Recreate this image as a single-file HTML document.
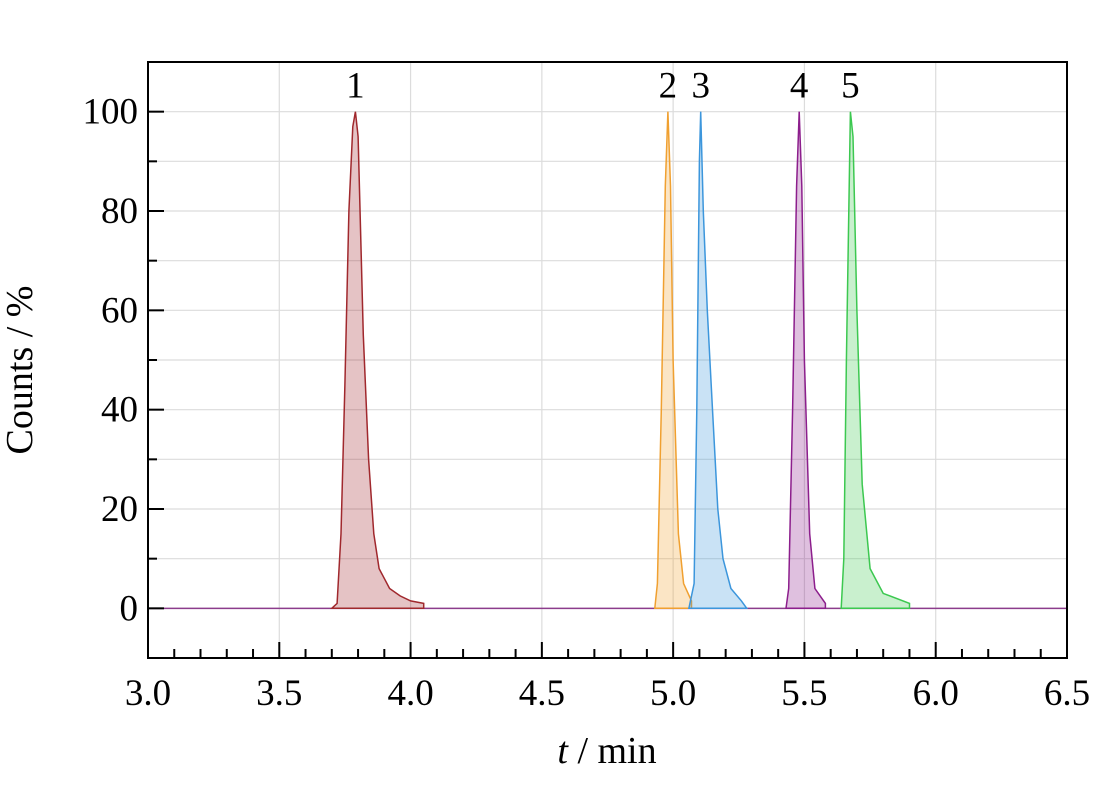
<!DOCTYPE html>
<html><head><meta charset="utf-8"><style>
body{margin:0;background:#fff}
svg{display:block;font-family:"Liberation Serif",serif}
</style></head><body>
<svg id="chart" width="1114" height="786" viewBox="0 0 1114 786" xmlns="http://www.w3.org/2000/svg">
<g id="grid"></g>
<g id="series"></g>
<g id="axes"></g>
<text transform="translate(32,370) rotate(-90)" text-anchor="middle" font-size="38">Counts / %</text>
<text x="607" y="763" text-anchor="middle" font-size="38"><tspan font-style="italic">t</tspan> / min</text>
</svg>
<script>
const xTicks=[3.0,3.5,4.0,4.5,5.0,5.5,6.0,6.5];
const xTickLabels=["3.0","3.5","4.0","4.5","5.0","5.5","6.0","6.5"];
const yTicks=[0,20,40,60,80,100];
const yTickLabels=["0","20","40","60","80","100"];
const peakLabels=["1","2","3","4","5"];
const peakColors=["#a0282d","#f0a030","#3c96dc","#8c1e8c","#3cc850"];
const peak1T=[3.70,3.72,3.735,3.75,3.765,3.78,3.79,3.80,3.81,3.82,3.84,3.86,3.88,3.92,3.96,4.00,4.05,4.05];
const peak1V=[0,1,15,45,80,97,100,95,75,55,30,15,8,4,2.5,1.5,1,0];
const peak2T=[4.93,4.94,4.955,4.97,4.98,4.99,5.00,5.02,5.04,5.07,5.07];
const peak2V=[0,5,40,85,100,85,50,15,5,1.5,0];
const peak3T=[5.06,5.08,5.09,5.10,5.105,5.115,5.13,5.15,5.17,5.19,5.22,5.26,5.28];
const peak3V=[0,5,40,90,100,80,60,40,20,10,4,1.5,0];
const peak4T=[5.43,5.44,5.455,5.47,5.48,5.49,5.50,5.52,5.54,5.58,5.58];
const peak4V=[0,4,40,85,100,85,50,15,4,1,0];
const peak5T=[5.64,5.65,5.66,5.675,5.685,5.70,5.72,5.75,5.80,5.90,5.90];
const peak5V=[0,10,50,100,95,60,25,8,3,1,0];
const peaksT=[peak1T,peak2T,peak3T,peak4T,peak5T];
const peaksV=[peak1V,peak2V,peak3V,peak4V,peak5V];

const L=148,R=1067,T=62,B=658,xmin=3.0,xmax=6.5,ymin=-10,ymax=110;
const X=v=>L+(v-xmin)/(xmax-xmin)*(R-L);
const Y=v=>B-(v-ymin)/(ymax-ymin)*(B-T);
const NS="http://www.w3.org/2000/svg";
function mk(tag,attrs,parent){const e=document.createElementNS(NS,tag);for(const k in attrs)e.setAttribute(k,attrs[k]);parent.appendChild(e);return e;}
const grid=document.getElementById('grid'),ser=document.getElementById('series'),axes=document.getElementById('axes');

for(let v=-10;v<=110;v+=10){const l=mk('line',{x1:L,x2:R,y1:Y(v),y2:Y(v),stroke:'#dcdcdc','stroke-width':1.2},grid);
}
xTicks.forEach(v=>{const l=mk('line',{x1:X(v),x2:X(v),y1:T,y2:B,stroke:'#dcdcdc','stroke-width':1.2},grid);
});

const bl=mk('line',{x1:L,x2:R,y1:Y(0),y2:Y(0),stroke:'#8c3c8c','stroke-width':1.5},ser);


peaksT.forEach((ts,i)=>{
 let d=ts.map((t,j)=>(j?'L':'M')+X(t).toFixed(1)+','+Y(peaksV[i][j]).toFixed(1)).join(' ')+'Z';
 const p=mk('path',{d:d,fill:peakColors[i],'fill-opacity':0.28,stroke:peakColors[i],'stroke-width':1.5},ser);
 
 let mi=peaksV[i].indexOf(Math.max(...peaksV[i]));
 const t=mk('text',{x:X(ts[mi]),y:Y(peaksV[i][mi])-14,'text-anchor':'middle','font-size':37},ser);
 t.textContent=peakLabels[i];
});

const fr=mk('rect',{x:L,y:T,width:R-L,height:B-T,fill:'none',stroke:'#000','stroke-width':2},axes);

for(let k=0;k<=35;k++){const v=xmin+k*0.1;const major=k%5===0;
 const l=mk('line',{x1:X(v),x2:X(v),y1:B,y2:B-(major?16:9),stroke:'#000','stroke-width':2},axes);
 }
xTicks.forEach((v,i)=>{const t=mk('text',{x:X(v),y:B+47,'text-anchor':'middle','font-size':37},axes);
 t.textContent=xTickLabels[i];});
for(let v=-10;v<=110;v+=10){const major=v%20===0;
 const l=mk('line',{x1:L,x2:L+(major?16:9),y1:Y(v),y2:Y(v),stroke:'#000','stroke-width':2},axes);
 }
yTicks.forEach((v,i)=>{const t=mk('text',{x:L-10,y:Y(v)+12,'text-anchor':'end','font-size':37},axes);
 t.textContent=yTickLabels[i];});
</script>
</body></html>
